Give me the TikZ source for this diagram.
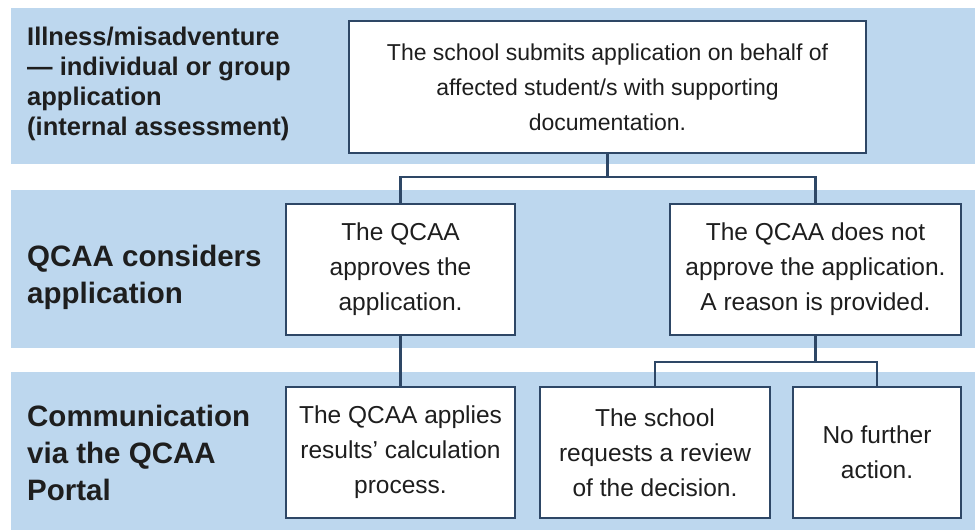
\documentclass[tikz,border=0pt]{standalone}
\usepackage{fontspec}
\setmainfont{Liberation Sans}
\definecolor{band}{HTML}{BDD7EE}
\definecolor{edge}{HTML}{2E4766}
\definecolor{ink}{HTML}{1E1E1E}
\begin{document}
\begin{tikzpicture}[x=1pt,y=-1pt,
  bandbox/.style={fill=band,draw=none},
  stepbox/.style={draw=edge,line width=2.5pt,fill=white,align=center,text=ink,
    inner sep=0pt,font=\fontsize{24.5}{35}\selectfont},
  lbl/.style={anchor=west,align=left,text=ink,inner sep=0pt},
  conn/.style={draw=edge,line width=2.2pt}]
\useasboundingbox (0,0) rectangle (975,530);
\fill[white] (0,0) rectangle (975,530);
% bands
\path[bandbox] (11,8) rectangle (975,164);
\path[bandbox] (11,190) rectangle (975,348);
\path[bandbox] (11,372) rectangle (975,530);
% labels
\node[lbl,font=\bfseries\fontsize{25.5}{30}\selectfont] (l1) at (27,84)
  {Illness/misadventure\\— individual or group\\application\\(internal assessment)};
\node[lbl,font=\bfseries\fontsize{29.5}{37}\selectfont] (l2) at (27,277)
  {QCAA considers\\application};
\node[lbl,font=\bfseries\fontsize{29.5}{37}\selectfont] (l3) at (27,453)
  {Communication\\via the QCAA\\Portal};
% boxes
\node[stepbox,minimum width=517pt,minimum height=132pt,font=\fontsize{23}{35}\selectfont] (top) at (607.5,87)
  {The school submits application on behalf of\\affected student/s with supporting\\documentation.};
\node[stepbox,minimum width=229pt,minimum height=131pt] (lb) at (400.5,269.5)
  {The QCAA\\approves the\\application.};
\node[stepbox,minimum width=291pt,minimum height=131pt] (rb) at (815.5,269.5)
  {The QCAA does not\\approve the application.\\A reason is provided.};
\node[stepbox,minimum width=229pt,minimum height=131pt] (b1) at (400.5,452.5)
  {The QCAA applies\\results’ calculation\\process.};
\node[stepbox,minimum width=230pt,minimum height=131pt] (b2) at (655,452.5)
  {The school\\requests a review\\of the decision.};
\node[stepbox,minimum width=168pt,minimum height=131pt] (b3) at (877,452.5)
  {No further\\action.};
% connectors
\coordinate (j1) at (607.5,177);
\coordinate (j2) at (815.5,362);
\draw[conn] (top.south) -- (j1) -| (lb.north);
\draw[conn] (j1) -| (rb.north);
\draw[conn] (lb.south) -- (b1.north);
\draw[conn] (rb.south) -- (j2) -| (b2.north);
\draw[conn] (j2) -| (b3.north);
\end{tikzpicture}
\end{document}
